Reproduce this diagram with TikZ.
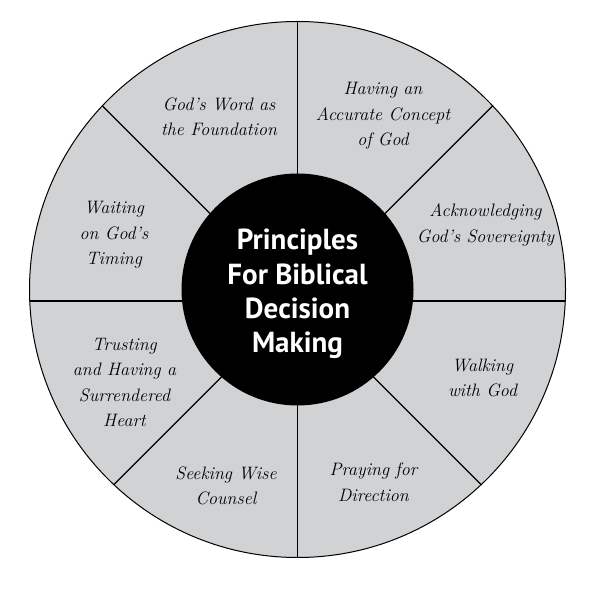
\documentclass[tikz,border=0pt]{standalone}
\usepackage{fontspec}
\newfontfamily\ctrfont{PT Sans}
\definecolor{wheelgray}{RGB}{209,210,212}
\tikzset{
  spoke/.style={draw=black, line width=1.3pt},
  lab/.style={align=center, inner sep=0pt, font={\fontsize{18}{25.5}\selectfont\itshape}},
  ctr/.style={align=center, inner sep=0pt, text=white, font={\ctrfont\bfseries\fontsize{29}{34.3}\selectfont}}
}
\begin{document}
\begin{tikzpicture}[x=1pt,y=1pt]
\useasboundingbox (0,0) rectangle (602,591);
\coordinate (C) at (297.5,301.5);
\coordinate (S) at (297.5,290);
\fill[wheelgray] (C) circle (268pt);
\begin{scope}
  \clip (C) circle (268pt);
  \foreach \a in {0,45,...,315} \draw[spoke] (S) -- ++(\a:320);
\end{scope}
\draw[line width=1pt] (C) circle (268pt);
\fill[black] (C) circle (116pt);
\node[ctr] (center) at (297.5,297) {Principles\\For Biblical\\Decision\\Making};
\node[lab] (l1) at (219,474.2) {God’s Word as\\the Foundation};
\node[lab] (l2) at (383,475) {Having an\\Accurate Concept\\of God};
\node[lab] (l3) at (485.5,366) {Acknowledging\\God’s Sovereignty};
\node[lab] (l4) at (482.5,213) {Walking\\with God};
\node[lab] (l5) at (373.5,108.5) {Praying for\\Direction};
\node[lab] (l6) at (226,105) {Seeking Wise\\Counsel};
\node[lab] (l7) at (124.5,208.5) {Trusting\\and Having a\\Surrendered\\Heart};
\node[lab] (l8) at (114,356) {Waiting\\on God’s\\Timing};
\end{tikzpicture}
\end{document}
